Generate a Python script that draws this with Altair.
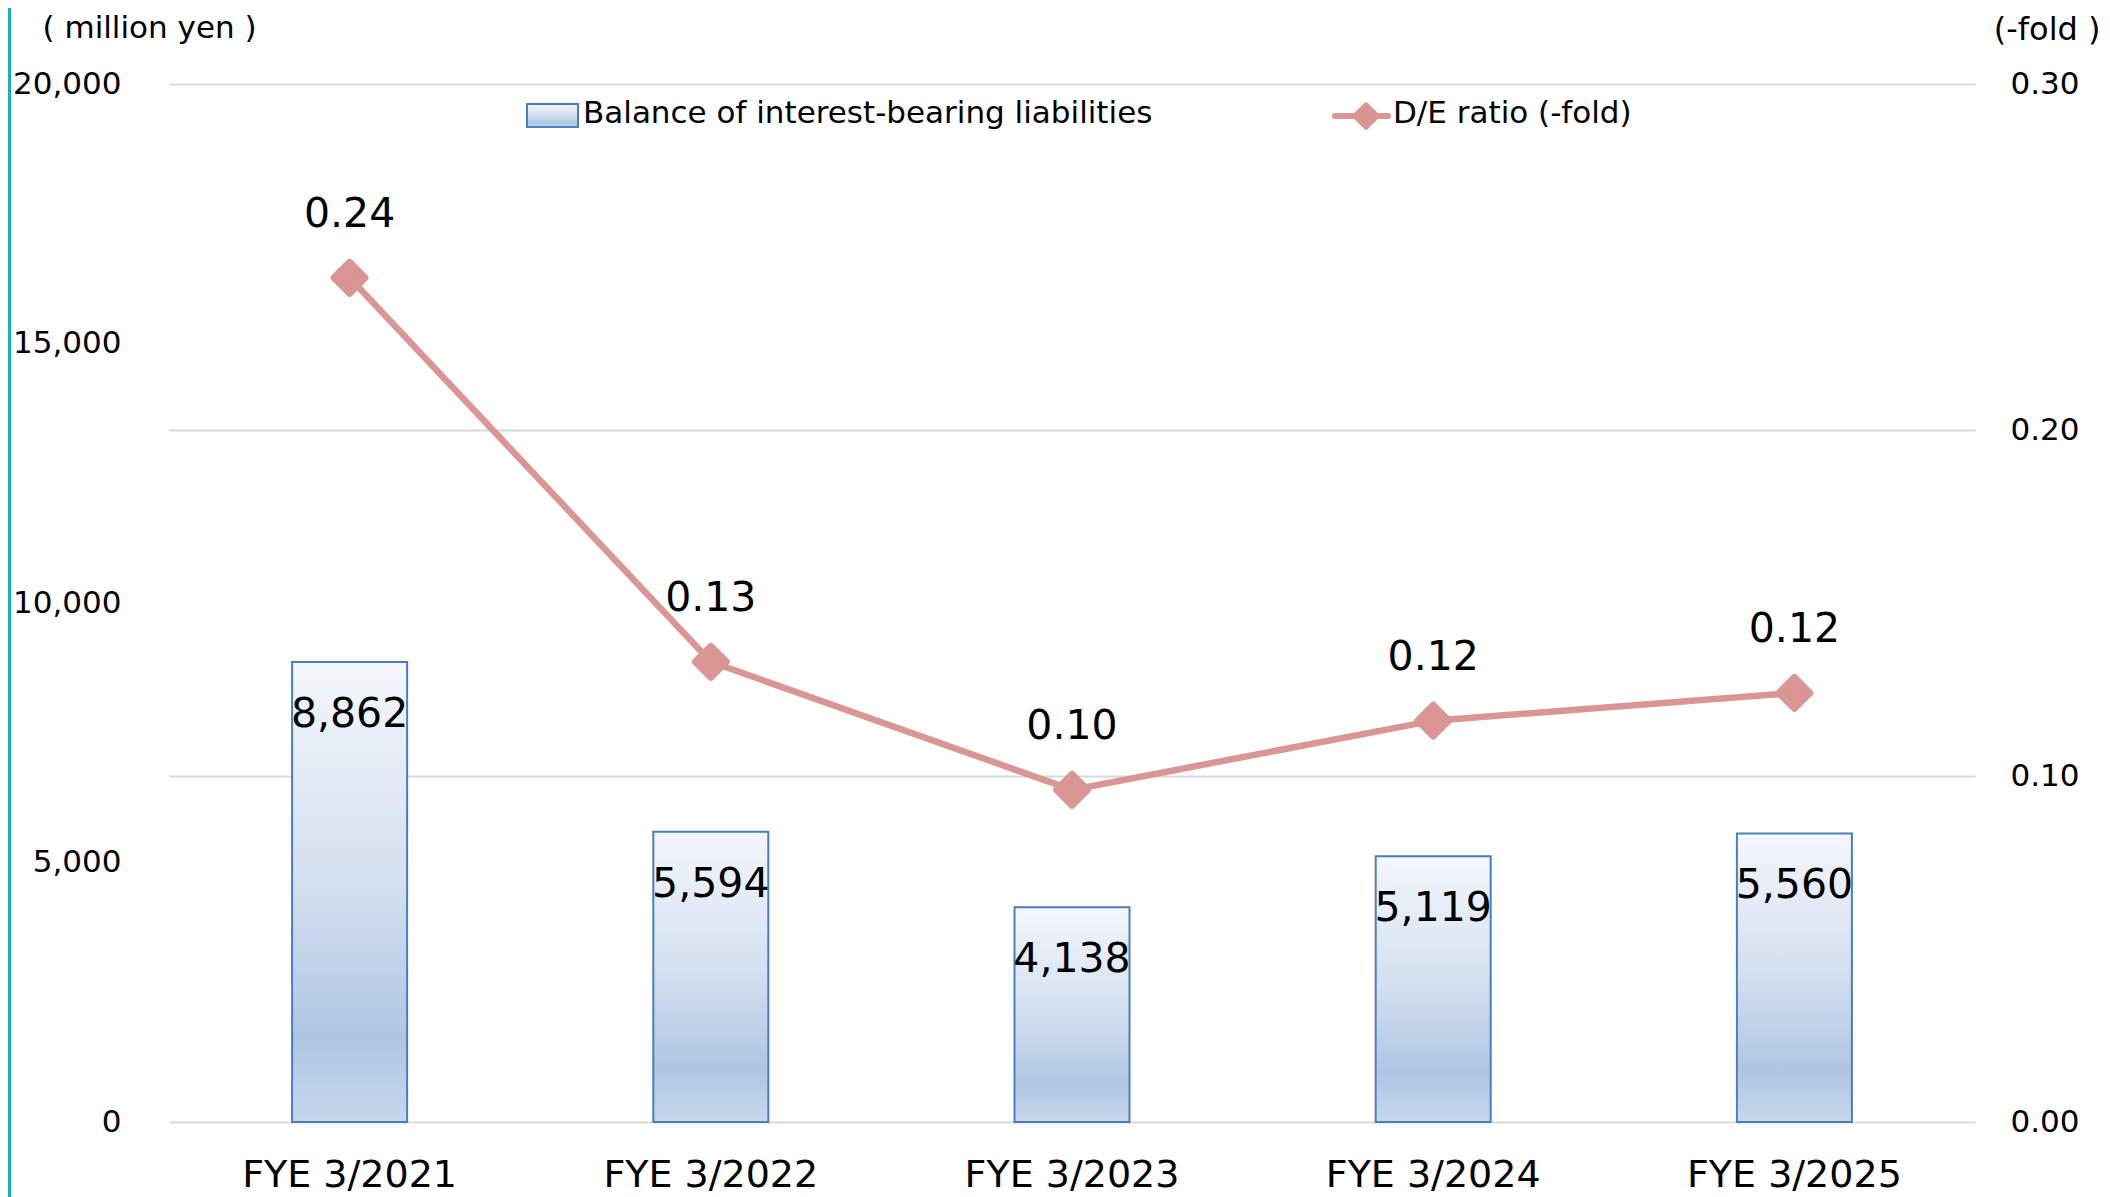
import altair as alt
import pandas as pd

# ---- data ----
categories = ["FYE 3/2021", "FYE 3/2022", "FYE 3/2023", "FYE 3/2024", "FYE 3/2025"]
debt_values = [8862, 5594, 4138, 5119, 5560]
debt_labels = ["8,862", "5,594", "4,138", "5,119", "5,560"]
ratio_values = [0.244, 0.133, 0.096, 0.116, 0.124]
ratio_labels = ["0.24", "0.13", "0.10", "0.12", "0.12"]
left_ticks = [0, 5000, 10000, 15000, 20000]
right_ticks = [0.0, 0.1, 0.2, 0.3]

df = pd.DataFrame({
    "cat": categories,
    "debt": debt_values,
    "debt_label": debt_labels,
    "ratio": ratio_values,
    "ratio_label": ratio_labels,
})
one = pd.DataFrame({"k": [0]})

FONT = "DejaVu Sans"
PINK = "#D99694"
BAR_STROKE = "#4A7EBF"
W, H = 1806, 1038

grad = alt.Gradient(
    gradient="linear", x1=0, x2=0, y1=0, y2=1,
    stops=[
        alt.GradientStop(offset=0, color="#F4F7FC"),
        alt.GradientStop(offset=0.5, color="#D2DEEF"),
        alt.GradientStop(offset=0.82, color="#AFC5E3"),
        alt.GradientStop(offset=1, color="#C7D7EC"),
    ],
)

x_enc = alt.X(
    "cat:N", sort=None, title=None,
    axis=alt.Axis(labelAngle=0, labelFontSize=38, labelFont=FONT, labelColor="black",
                  domain=False, ticks=False, tickSize=0, labelPadding=53,
                  labelBaseline="middle", labelLimit=0),
)

y_left = alt.Y(
    "debt:Q",
    scale=alt.Scale(domain=[0, 20000], nice=False),
    axis=alt.Axis(values=left_ticks, format=",d", grid=False, domain=False, ticks=False,
                  labelFontSize=31, labelFont=FONT, labelColor="black", labelPadding=48,
                  title="( million yen )", titleAngle=0, titleAlign="left",
                  titleBaseline="middle", titleX=-127, titleY=-56, titleFontSize=31,
                  titleFont=FONT, titleFontWeight="normal", titleColor="black"),
)

bars = alt.Chart(df).mark_bar(size=115, fill=grad, stroke=BAR_STROKE, strokeWidth=2).encode(
    x=x_enc, y=y_left
)
bar_text = alt.Chart(df).mark_text(font=FONT, fontSize=41, color="black",
                                   baseline="middle", dy=53).encode(
    x=alt.X("cat:N", sort=None), y=alt.Y("debt:Q"), text="debt_label:N"
)
left = alt.layer(bars, bar_text)

y_right = alt.Y(
    "ratio:Q",
    scale=alt.Scale(domain=[0, 0.3], nice=False),
    axis=alt.Axis(orient="right", values=right_ticks, format=".2f", grid=True,
                  gridColor="#D9D9D9", gridWidth=2, domain=False, ticks=False,
                  labelFontSize=31, labelFont=FONT, labelColor="black", labelPadding=35,
                  title="(-fold )", titleAngle=0, titleAlign="right",
                  titleBaseline="middle", titleX=125, titleY=-55, titleFontSize=32,
                  titleFont=FONT, titleFontWeight="normal", titleColor="black"),
)

line = alt.Chart(df).mark_line(color=PINK, strokeWidth=6.5).encode(
    x=alt.X("cat:N", sort=None), y=y_right
)
pts = alt.Chart(df).mark_point(shape="diamond", filled=True, size=950, fill=PINK,
                               stroke=PINK, strokeWidth=7, strokeJoin="round",
                               opacity=1).encode(
    x=alt.X("cat:N", sort=None), y=alt.Y("ratio:Q")
)
line_text = alt.Chart(df).mark_text(font=FONT, fontSize=41, color="black",
                                    baseline="middle", dy=-63).encode(
    x=alt.X("cat:N", sort=None), y=alt.Y("ratio:Q"), text="ratio_label:N"
)
right = alt.layer(line, pts, line_text)

# ---- legend (manual) ----
leg_rect = alt.Chart(one).mark_rect(fill=grad, stroke=BAR_STROKE, strokeWidth=2).encode(
    x=alt.value(358), x2=alt.value(409), y=alt.value(20), y2=alt.value(43)
)
leg_text1 = alt.Chart(one).mark_text(font=FONT, fontSize=31, color="black", align="left",
                                     baseline="middle").encode(
    x=alt.value(414), y=alt.value(30), text=alt.value("Balance of interest-bearing liabilities")
)
leg_line = alt.Chart(one).mark_rule(color=PINK, strokeWidth=6, strokeCap="round").encode(
    x=alt.value(1166), x2=alt.value(1219), y=alt.value(32)
)
leg_pt = alt.Chart(one).mark_point(shape="diamond", filled=True, size=500, fill=PINK,
                                   stroke=PINK, strokeWidth=5, strokeJoin="round",
                                   opacity=1).encode(
    x=alt.value(1197), y=alt.value(32)
)
leg_text2 = alt.Chart(one).mark_text(font=FONT, fontSize=31, color="black", align="left",
                                     baseline="middle").encode(
    x=alt.value(1224), y=alt.value(30), text=alt.value("D/E ratio (-fold)")
)
teal = alt.Chart(one).mark_rule(color="#17B3B3", strokeWidth=3).encode(
    x=alt.value(-159.5), y=alt.value(-76), y2=alt.value(H + 78)
)
legend = alt.layer(leg_rect, leg_text1, leg_line, leg_pt, leg_text2, teal)

chart = alt.layer(left, right, legend).resolve_scale(y="independent").properties(
    width=W, height=H,
    autosize=alt.AutoSizeParams(type="none"),
    padding={"left": 161, "top": 76, "right": 126, "bottom": 78},
).configure(background="white", view=alt.ViewConfig(stroke=None))

chart.save("out.html", embed_options={"renderer": "svg", "actions": False})
